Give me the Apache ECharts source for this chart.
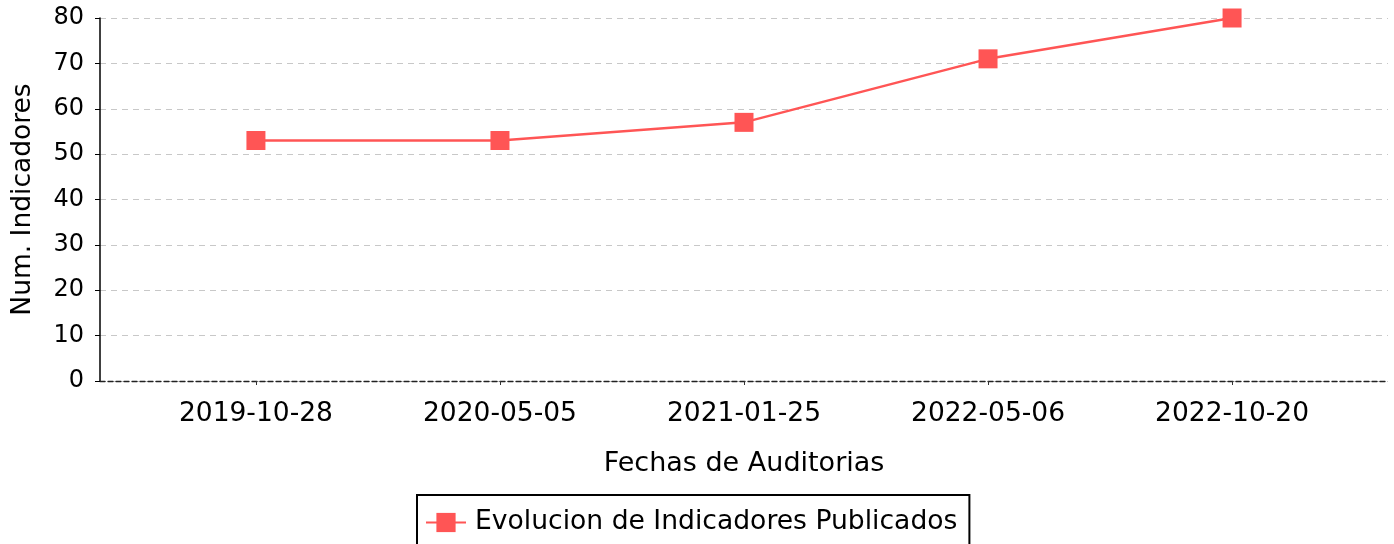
<!DOCTYPE html>
<html>
<head>
<meta charset="utf-8">
<script src="https://cdn.jsdelivr.net/npm/echarts@6/dist/echarts.min.js"></script>
<style>
html,body{margin:0;padding:0;background:#fff;}
#chart{width:1394px;height:544px;}
</style>
</head>
<body>
<div id="chart"></div>
<script>
const categories = ['2019-10-28', '2020-05-05', '2021-01-25', '2022-05-06', '2022-10-20'];
const values = [53, 53, 57, 71, 80];
const yTicks = [0, 10, 20, 30, 40, 50, 60, 70, 80];
const seriesName = 'Evolucion de Indicadores Publicados';

const FONT = 'DejaVu Sans';
const idx = categories.map((c, i) => i);
const chart = echarts.init(document.getElementById('chart'), null, {renderer: 'canvas'});
chart.setOption({
  animation: false,
  grid: {left: 100, right: 6, top: 18, bottom: 163, containLabel: false},
  xAxis: {
    type: 'value',
    min: -0.639,
    max: categories.length - 1 + 0.639,
    name: 'Fechas de Auditorias',
    nameLocation: 'middle',
    nameGap: 69,
    nameTextStyle: {fontFamily: FONT, fontSize: 27, color: '#000'},
    axisLine: {show: true, onZero: false, lineStyle: {color: '#222', type: [5, 3], width: 1.3}},
    axisTick: {show: true, length: 4, lineStyle: {color: '#333'}, customValues: idx},
    axisLabel: {
      fontFamily: FONT, fontSize: 26.5, color: '#000', margin: 20,
      customValues: idx,
      formatter: v => categories[Math.round(v)]
    },
    splitLine: {show: false}
  },
  yAxis: {
    type: 'value',
    min: yTicks[0],
    max: yTicks[yTicks.length - 1],
    interval: 10,
    name: 'Num. Indicadores',
    nameLocation: 'middle',
    nameGap: 63,
    nameTextStyle: {fontFamily: FONT, fontSize: 26.5, color: '#000'},
    axisLine: {show: true, onZero: false, lineStyle: {color: '#000', width: 1.5}},
    axisTick: {show: true, length: 5, lineStyle: {color: '#000'}},
    axisLabel: {fontFamily: FONT, fontSize: 24, color: '#000', margin: 16},
    splitLine: {show: true, lineStyle: {color: '#c8c8c8', type: [6, 5], width: 1.2}}
  },
  legend: {
    show: true,
    left: 417,
    top: 495,
    padding: [14, 12, 12, 8],
    borderColor: '#000',
    borderWidth: 2,
    itemWidth: 40,
    itemHeight: 24,
    itemGap: 10,
    textStyle: {fontFamily: FONT, fontSize: 26.6, color: '#000', padding: [0, 0, 0, 4]},
    data: [seriesName]
  },
  series: [{
    name: seriesName,
    type: 'line',
    data: values.map((v, i) => [i, v]),
    symbol: 'rect',
    symbolSize: 19,
    color: '#ff5555',
    lineStyle: {width: 2.5, color: '#ff5555'},
    itemStyle: {color: '#ff5555'},
    clip: true
  }]
});
</script>
</body>
</html>
